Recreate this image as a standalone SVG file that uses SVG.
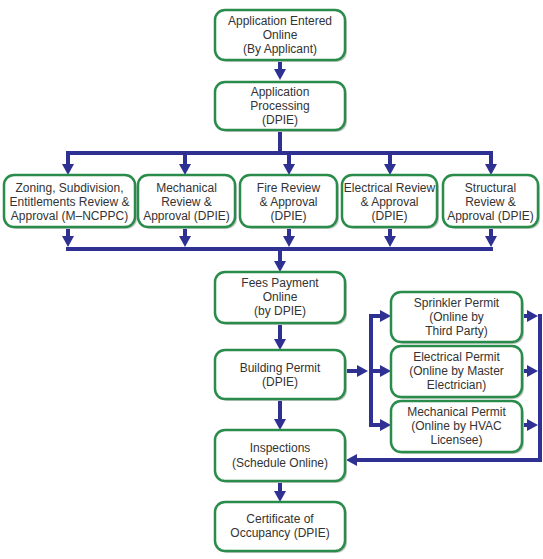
<svg xmlns="http://www.w3.org/2000/svg" width="543" height="559" viewBox="0 0 543 559">
<style>
.box{fill:#fff;stroke:#2a8c4a;stroke-width:2.5}
.sh{fill:#c8c8c8}
text{font-family:"Liberation Sans",Arial,sans-serif;font-size:12px;fill:#333;text-anchor:middle}
.c{fill:none;stroke:#2e3192;stroke-width:4}
.a{marker-end:url(#ah)}
</style>
<defs>
<marker id="ah" markerUnits="userSpaceOnUse" markerWidth="11" markerHeight="12" refX="0" refY="6" orient="auto" viewBox="0 0 11 12">
<path d="M0,0 L11,6 L0,12 z" fill="#2e3192"/>
</marker>
</defs>
<rect width="543" height="559" fill="#fff"/>
<g id="connectors">
<path class="c a" d="M280,60 V69"/>
<path class="c" d="M280,130 V153 M66,153 H493"/>
<path class="c a" d="M68,153 V164"/>
<path class="c a" d="M185,153 V164"/>
<path class="c a" d="M289,153 V164"/>
<path class="c a" d="M390,153 V164"/>
<path class="c a" d="M491,153 V164"/>
<path class="c a" d="M68,227 V236"/>
<path class="c a" d="M185,227 V236"/>
<path class="c a" d="M289,227 V236"/>
<path class="c a" d="M390,227 V236"/>
<path class="c a" d="M491,227 V236"/>
<path class="c" d="M66,249 H493"/>
<path class="c a" d="M280,249 V261"/>
<path class="c a" d="M280,323 V339"/>
<path class="c a" d="M280,399 V419"/>
<path class="c a" d="M280,481 V491"/>
<path class="c a" d="M346,371 H357"/>
<path class="c" d="M371,314 V427"/>
<path class="c a" d="M369,316 H380"/>
<path class="c a" d="M371,371 H380"/>
<path class="c a" d="M369,425 H380"/>
<path class="c a" d="M522,316 H527"/>
<path class="c a" d="M522,371 H527"/>
<path class="c a" d="M522,425 H527"/>
<path class="c" d="M540,314 V460 H357"/>
<path class="c a" d="M360,460 H357"/>
</g>
<g id="n1"><rect class="sh" x="217" y="12" width="130" height="50" rx="10"/><rect class="box" x="215" y="10" width="130" height="50" rx="10"/>
<text x="280" y="25">Application Entered</text><text x="280" y="39">Online</text><text x="280" y="53">(By Applicant)</text></g>
<g id="n2"><rect class="sh" x="217" y="84" width="130" height="48" rx="10"/><rect class="box" x="215" y="82" width="130" height="48" rx="10"/>
<text x="280" y="96">Application</text><text x="280" y="110">Processing</text><text x="280" y="124">(DPIE)</text></g>
<g id="n3"><rect class="sh" x="6" y="177" width="131" height="52" rx="10"/><rect class="box" x="4" y="175" width="131" height="52" rx="10"/>
<text x="69.5" y="192">Zoning, Subdivision,</text><text x="69.5" y="206">Entitlements Review &amp;</text><text x="69.5" y="220">Approval (M–NCPPC)</text></g>
<g id="n4"><rect class="sh" x="140" y="177" width="97" height="52" rx="10"/><rect class="box" x="138" y="175" width="97" height="52" rx="10"/>
<text x="186.5" y="192">Mechanical</text><text x="186.5" y="206">Review &amp;</text><text x="186.5" y="220">Approval (DPIE)</text></g>
<g id="n5"><rect class="sh" x="242" y="177" width="97" height="52" rx="10"/><rect class="box" x="240" y="175" width="97" height="52" rx="10"/>
<text x="288.5" y="192">Fire Review</text><text x="288.5" y="206">&amp; Approval</text><text x="288.5" y="220">(DPIE)</text></g>
<g id="n6"><rect class="sh" x="344" y="177" width="95" height="52" rx="10"/><rect class="box" x="342" y="175" width="95" height="52" rx="10"/>
<text x="389.5" y="192">Electrical Review</text><text x="389.5" y="206">&amp; Approval</text><text x="389.5" y="220">(DPIE)</text></g>
<g id="n7"><rect class="sh" x="445" y="177" width="95" height="52" rx="10"/><rect class="box" x="443" y="175" width="95" height="52" rx="10"/>
<text x="490.5" y="192">Structural</text><text x="490.5" y="206">Review &amp;</text><text x="490.5" y="220">Approval (DPIE)</text></g>
<g id="n8"><rect class="sh" x="217" y="274" width="130" height="51" rx="10"/><rect class="box" x="215" y="272" width="130" height="51" rx="10"/>
<text x="280" y="287">Fees Payment</text><text x="280" y="301">Online</text><text x="280" y="315">(by DPIE)</text></g>
<g id="n9"><rect class="sh" x="217" y="352" width="130" height="49" rx="10"/><rect class="box" x="215" y="350" width="130" height="49" rx="10"/>
<text x="280" y="372">Building Permit</text><text x="280" y="386">(DPIE)</text></g>
<g id="n10"><rect class="sh" x="393" y="294" width="131" height="50" rx="10"/><rect class="box" x="391" y="292" width="131" height="50" rx="10"/>
<text x="456.5" y="307">Sprinkler Permit</text><text x="456.5" y="321">(Online by</text><text x="456.5" y="335">Third Party)</text></g>
<g id="n11"><rect class="sh" x="393" y="348" width="131" height="51" rx="10"/><rect class="box" x="391" y="346" width="131" height="51" rx="10"/>
<text x="456.5" y="361">Electrical Permit</text><text x="456.5" y="375">(Online by Master</text><text x="456.5" y="389">Electrician)</text></g>
<g id="n12"><rect class="sh" x="393" y="403" width="131" height="51" rx="10"/><rect class="box" x="391" y="401" width="131" height="51" rx="10"/>
<text x="456.5" y="416">Mechanical Permit</text><text x="456.5" y="430">(Online by HVAC</text><text x="456.5" y="444">Licensee)</text></g>
<g id="n13"><rect class="sh" x="217" y="432" width="130" height="51" rx="10"/><rect class="box" x="215" y="430" width="130" height="51" rx="10"/>
<text x="280" y="452">Inspections</text><text x="280" y="467">(Schedule Online)</text></g>
<g id="n14"><rect class="sh" x="217" y="504" width="130" height="49" rx="10"/><rect class="box" x="215" y="502" width="130" height="49" rx="10"/>
<text x="280" y="523">Certificate of</text><text x="280" y="537">Occupancy (DPIE)</text></g>
</svg>
